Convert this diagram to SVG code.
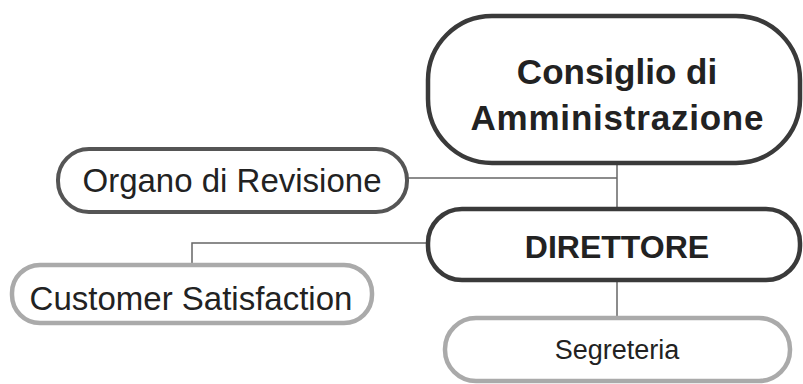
<svg xmlns="http://www.w3.org/2000/svg" width="803" height="384" viewBox="0 0 803 384">
<style>
.t{font-family:"Liberation Sans",Arial,sans-serif;fill:#222;text-anchor:middle}
.b{font-weight:bold}
.dark{fill:#fff;stroke:#3a3a3a;stroke-width:4.5}
.mid{fill:#fff;stroke:#555;stroke-width:4}
.light{fill:#fff;stroke:#aaa;stroke-width:4.5}
.c{fill:none;stroke:#666;stroke-width:1.5}
</style>
<rect width="803" height="384" fill="#fff"/>
<g id="connectors">
<path class="c" d="M407 178 H617"/>
<path class="c" d="M617 163 V209"/>
<path class="c" d="M192 265 V243 H428"/>
<path class="c" d="M617 280 V318"/>
</g>
<g id="consiglio">
<rect class="dark" x="428" y="16" width="372" height="147" rx="64"/>
<text class="t b" x="617" y="84" font-size="35">Consiglio di</text>
<text class="t b" x="617" y="130" font-size="35" textLength="293">Amministrazione</text>
</g>
<g id="organo">
<rect class="mid" x="58" y="149" width="349" height="63" rx="31"/>
<text class="t" x="232" y="192" font-size="33">Organo di Revisione</text>
</g>
<g id="direttore">
<rect class="dark" x="428" y="209" width="372" height="71" rx="34"/>
<text class="t b" x="617" y="258" font-size="32">DIRETTORE</text>
</g>
<g id="customer">
<rect class="light" x="12" y="265" width="360" height="58" rx="28"/>
<text class="t" x="191" y="310" font-size="33">Customer Satisfaction</text>
</g>
<g id="segreteria">
<rect class="light" x="445" y="318" width="345" height="63" rx="31"/>
<text class="t" x="617" y="359" font-size="27">Segreteria</text>
</g>
</svg>
